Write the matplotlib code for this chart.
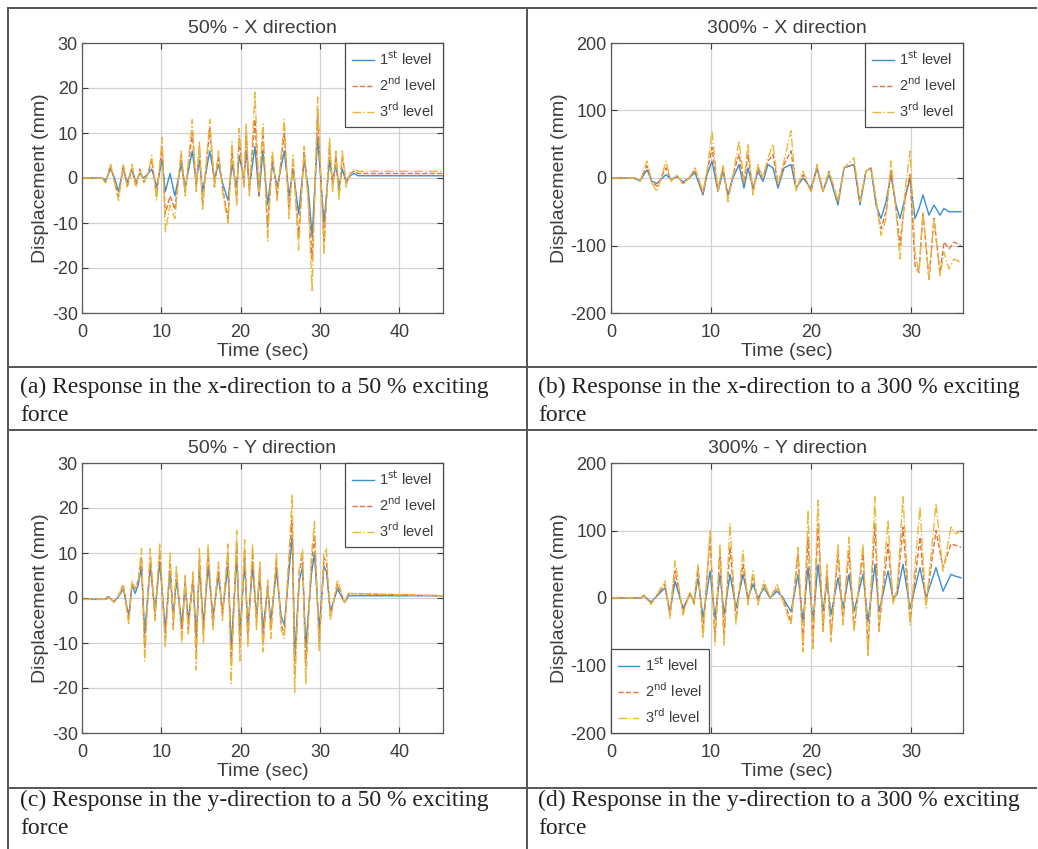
# Displacement response of the 3 levels, 50% and 300% excitation, X and Y directions

import numpy as np
import matplotlib
matplotlib.use('Agg')
import matplotlib.pyplot as plt
from matplotlib.lines import Line2D

######################
# Data read from fig #
######################
# (a) 50% - X direction
t_a = [0.0, 2.5, 3.0, 3.6, 4.1, 4.6, 5.2, 5.7, 6.3, 6.8, 7.3, 7.8, 8.3, 8.8, 9.4, 10.1, 10.5, 11.1,
       11.7, 12.5, 13.0, 13.9, 14.4, 14.8, 15.2, 16.1, 16.7, 17.2, 17.7, 18.4, 18.9, 19.5, 19.8, 20.4,
       20.7, 21.1, 21.8, 22.3, 22.8, 23.4, 24.0, 24.6, 25.5, 26.1, 26.6, 27.3, 28.0, 28.5, 29.0, 29.7,
       30.5, 31.2, 31.6, 32.0, 32.4, 32.8, 33.3, 33.8, 34.3, 34.8, 45.5]
a_lvl3 = [0, 0, -1, 3, -1, -5, 3, -2, 3, -2, 2, -1, 1, 5, -5, 9, -12, -6,
          -9, 6, -4, 13, -3, 8, -7, 13, -2, 6, -3, -10, 8, -6, 11, -2,
          12, -4, 19, -3, 12, -14, 6, -5, 13, -9, 5, -16, 7, -5, -25, 18,
          -17, 9, -3, 6, -5, 6, -2, 1, 2, 1.5, 1.5]
a_lvl2 = [0, 0, -1, 3, -1, -4, 3, -2, 2, -2, 2, -1, 1, 4, -4, 7, -8, -4,
          -7, 5, -3, 10, -2, 7, -6, 11, -2, 5, -2, -9, 6, -5, 9, -2,
          10, -3, 13, -4, 10, -11, 5, -4, 10, -7, 4, -13, 6, -4, -18, 14,
          -14, 7, -2, 5, -4, 5, -1, 1, 1.5, 1, 1]
a_lvl1 = [0, 0, -0.5, 2, 0, -3, 2, -1, 2, -1, 1, 0, 1, 2, -2, 4, -3, 1,
          -4, 3, -2, 6, -1, 4, -3, 6, 0, 3, -1, -5, 3, -2, 5, 0,
          6, -2, 7, -4, 6, -6, 3, -2, 6, -4, 2, -8, 4, -2, -13, 9,
          -10, 4, -1, 3, -2, 2, -1, 0.5, 1, 0.5, 0.5]

# (b) 300% - X direction
t_b = [0.0, 2.3, 2.9, 3.6, 4.1, 4.6, 5.5, 6.0, 6.6, 7.2, 7.8, 8.4, 9.2, 9.6, 10.1, 10.7, 11.2, 11.7,
       12.2, 12.8, 13.3, 13.7, 14.2, 14.7, 15.2, 15.7, 16.2, 16.7, 17.3, 18.0, 18.5, 19.2, 20.0, 20.6,
       21.2, 21.8, 22.7, 23.3, 24.3, 24.9, 25.5, 26.0, 26.5, 27.0, 27.5, 28.0, 28.5, 28.9, 29.4, 29.9,
       30.4, 30.8, 31.2, 31.8, 32.3, 32.9, 33.3, 33.8, 34.3, 35.0]
b_lvl3 = [0, 0, -5, 25, -8, -20, 25, -5, 5, -10, 0, 15, -20, 10, 70, -20, 20, -35,
          5, 55, -5, 50, -25, 20, 0, 30, 50, -10, 25, 70, -20, 10, -20, 20,
          -20, 10, -35, 15, 30, -35, 10, 15, -30, -85, -60, 25, -50, -120, -20, 40,
          -110, -140, -50, -150, -60, -145, -110, -135, -120, -125]
b_lvl2 = [0, 0, -5, 18, -6, -12, 15, -3, 3, -8, 0, 12, -22, 8, 45, -18, 15, -30,
          5, 35, -8, 35, -20, 15, 0, 25, 35, -10, 20, 40, -15, 5, -20, 15,
          -20, 10, -35, 15, 20, -35, 10, 15, -35, -75, -50, 10, -45, -100, -30, 5,
          -130, -140, -50, -150, -60, -140, -95, -105, -95, -100]
b_lvl1 = [0, 0, -4, 12, -5, -8, 5, -2, 2, -6, 0, 8, -25, 5, 25, -20, 10, -25,
          0, 20, -15, 15, -15, 10, -5, 20, 15, -15, 15, 20, -15, 0, -15, 15,
          -20, 5, -40, 15, 20, -40, 10, 15, -40, -60, -35, 5, -40, -60, -30, 0,
          -60, -45, -25, -55, -40, -55, -45, -50, -50, -50]

# (c) 50% - Y direction
t_c = [0.0, 3.0, 3.3, 4.0, 4.6, 5.2, 5.9, 6.3, 6.7, 7.1, 7.5, 7.9, 8.6, 9.2, 9.8, 10.5, 11.1, 11.5,
       11.9, 12.6, 13.0, 13.4, 14.0, 14.4, 14.8, 15.3, 15.9, 16.5, 17.2, 17.7, 18.4, 18.8, 19.5, 19.9,
       20.5, 20.9, 21.5, 22.0, 22.4, 22.8, 23.4, 23.8, 24.5, 25.1, 25.5, 25.9, 26.5, 26.8, 27.4, 27.8,
       28.2, 28.9, 29.3, 29.9, 30.5, 30.8, 31.3, 32.2, 33.1, 33.6, 45.5]
c_lvl3 = [-0.3, -0.3, 0.5, -1, 0.5, 3, -6, 4, 2, 4, 11, -14, 11, -5, 12, -11, 10, -7,
          7, -10, 5, -8, 6, -16, 11, -10, 12, -7, 8, -5, 12, -19, 15, -14,
          13, -11, 12, -7, 8, -12, 4, -9, 10, -7, -9, 4, 23, -21, 7, 11,
          -19, 9, 17, -12, 10, 11, -5, 4, -1, 1, 0.5]
c_lvl2 = [-0.3, -0.3, 0.5, -1, 0.5, 3, -5, 3, 2, 4, 9, -11, 9, -4, 10, -9, 8, -6,
          6, -8, 4, -7, 5, -12, 9, -8, 10, -6, 7, -4, 10, -15, 12, -11,
          11, -9, 10, -6, 7, -10, 3, -7, 8, -6, -8, 3, 18, -17, 6, 9,
          -15, 7, 14, -10, 9, 8, -4, 3, -1, 1, 0.5]
c_lvl1 = [-0.3, -0.3, 0.3, -0.8, 0.3, 2, -4, 3, 1, 3, 7, -8, 7, -3, 8, -7, 6, -4,
          4, -6, 3, -5, 4, -9, 7, -6, 7, -4, 5, -3, 7, -11, 9, -8,
          8, -7, 7, -4, 5, -7, 2, -5, 6, -4, -6, 2, 14, -13, 4, 7,
          -11, 5, 10, -7, 7, 6, -3, 2, -1, 0.5, 0.5]

# (d) 300% - Y direction
t_d = [0.0, 3.0, 3.3, 4.0, 4.6, 5.4, 5.9, 6.4, 7.2, 7.9, 8.3, 8.7, 9.2, 9.9, 10.4, 10.9, 11.3, 11.9,
       12.5, 13.2, 13.7, 14.2, 14.7, 15.3, 15.9, 16.6, 17.2, 18.0, 18.7, 19.2, 19.7, 20.2, 20.7, 21.2,
       21.6, 22.0, 22.7, 23.2, 23.8, 24.3, 25.2, 25.7, 26.4, 26.8, 27.7, 28.2, 28.6, 29.2, 29.9, 30.9,
       31.5, 32.5, 33.2, 34.0, 34.5, 35.0]
d_lvl3 = [0, 0, 5, -10, 5, 25, -30, 55, -25, 10, -10, 50, -60, 100, -70, 80, -70, 110,
          -40, 70, -10, 40, -10, 25, 0, 20, -5, -40, 75, -80, 130, -75, 145, -50,
          50, -65, 80, -40, 90, -50, 80, -85, 150, -50, 115, -10, 10, 150, -40, 135,
          -15, 140, 40, 105, 95, 100]
d_lvl2 = [0, 0, 4, -8, 4, 20, -25, 40, -20, 8, -8, 45, -50, 90, -60, 70, -55, 75,
          -30, 50, -5, 30, -5, 20, 0, 15, 0, -35, 65, -70, 90, -65, 110, -45,
          40, -55, 65, -35, 70, -45, 65, -75, 110, -45, 80, -5, 10, 105, -35, 90,
          -10, 100, 45, 80, 78, 75]
d_lvl1 = [0, 0, 3, -6, 3, 15, -20, 25, -15, 5, -5, 30, -30, 40, -30, 35, -25, 35,
          -15, 35, 0, 20, 0, 15, 0, 10, 0, -20, 35, -35, 45, -35, 50, -20,
          25, -25, 30, -15, 35, -20, 35, -35, 50, -20, 40, 0, 5, 50, -15, 45,
          0, 45, 10, 35, 32, 30]

titles = ['50% - X direction', '300% - X direction', '50% - Y direction', '300% - Y direction']
captions = ['(a) Response in the x-direction to a 50 % exciting',
            '(b) Response in the x-direction to a 300 % exciting',
            '(c) Response in the y-direction to a 50 % exciting',
            '(d) Response in the y-direction to a 300 % exciting']
level_names = ['1$^{\\mathrm{st}}$ level', '2$^{\\mathrm{nd}}$ level', '3$^{\\mathrm{rd}}$ level']

#################
# Figure layout #
#################
W, H = 1038, 849
fig = plt.figure(figsize=(W / 100, H / 100), dpi=100)
plt.rcParams['font.family'] = ['Liberation Sans', 'DejaVu Sans']
plt.rcParams['axes.unicode_minus'] = False

# MATLAB default colours (faded a little like the scan)
colors = ['#3a8fd0', '#e0703c', '#e9b83a']
styles = ['-', '--', '-.']
txt_col = '#3c3c3c'

# axes boxes in pixels: left, top, right, bottom
boxes = [(82, 43, 443, 313), (611, 43, 963, 313), (82, 463, 443, 733), (611, 463, 963, 733)]
panels = [(t_a, [a_lvl1, a_lvl2, a_lvl3]), (t_b, [b_lvl1, b_lvl2, b_lvl3]),
          (t_c, [c_lvl1, c_lvl2, c_lvl3]), (t_d, [d_lvl1, d_lvl2, d_lvl3])]

for k in range(4):
	l, t, r, b = boxes[k]
	ax = fig.add_axes([l / W, 1 - b / H, (r - l) / W, (b - t) / H])
	tt, series = panels[k]
	for j in range(3):
		ax.plot(tt, series[j], color=colors[j], linestyle=styles[j], linewidth=1.0, label=level_names[j])
	if k % 2 == 0:
		ax.set_xlim(0, 45.5)
		ax.set_ylim(-30, 30)
		ax.set_xticks([0, 10, 20, 30, 40])
		ax.set_yticks([-30, -20, -10, 0, 10, 20, 30])
	else:
		ax.set_xlim(0, 35.2)
		ax.set_ylim(-200, 200)
		ax.set_xticks([0, 10, 20, 30])
		ax.set_yticks([-200, -100, 0, 100, 200])
	ax.grid(True, color='#d2d2d2', linewidth=0.9)
	ax.set_axisbelow(True)
	ax.tick_params(direction='in', top=True, right=True, labelsize=13, colors=txt_col, length=4, pad=3)
	ax.tick_params(axis='x', pad=8)
	for sp in ax.spines.values():
		sp.set_color('#5a5a5a')
		sp.set_linewidth(0.9)
	ax.set_title(titles[k], fontsize=14, color=txt_col, pad=7)
	ax.set_xlabel('Time (sec)', fontsize=14, color=txt_col, labelpad=1)
	ax.set_ylabel('Displacement (mm)', fontsize=14, color=txt_col, labelpad=2)
	loc = 'lower left' if k == 3 else 'upper right'
	leg = ax.legend(loc=loc, fontsize=10.5, frameon=True, fancybox=False, framealpha=1,
	                edgecolor='#4a4a4a', borderaxespad=0, handlelength=1.5, handletextpad=0.4,
	                borderpad=0.45, labelspacing=0.5)
	leg.get_frame().set_linewidth(0.9)
	for txt in leg.get_texts():
		txt.set_color(txt_col)

# Captions under each plot
cap_pos = [(20, 387), (538, 387), (20, 800), (538, 800)]
for k in range(4):
	x, y = cap_pos[k]
	fig.text(x / W, 1 - y / H, captions[k], fontsize=17, family='Liberation Serif', color='#222222', va='center')
	fig.text(x / W, 1 - (y + 29) / H, 'force', fontsize=17, family='Liberation Serif', color='#222222', va='center')

# Table frame lines
def hline(y, x0=8, x1=1036):
	fig.add_artist(Line2D([x0 / W, x1 / W], [1 - y / H, 1 - y / H], color='#555555', linewidth=1.4))

def vline(x, y0=8, y1=849):
	fig.add_artist(Line2D([x / W, x / W], [1 - y0 / H, 1 - y1 / H], color='#555555', linewidth=1.4))

for y in [8, 367, 430, 788]:
	hline(y)
vline(8)
vline(527)

plt.savefig('out.png', dpi=100)
